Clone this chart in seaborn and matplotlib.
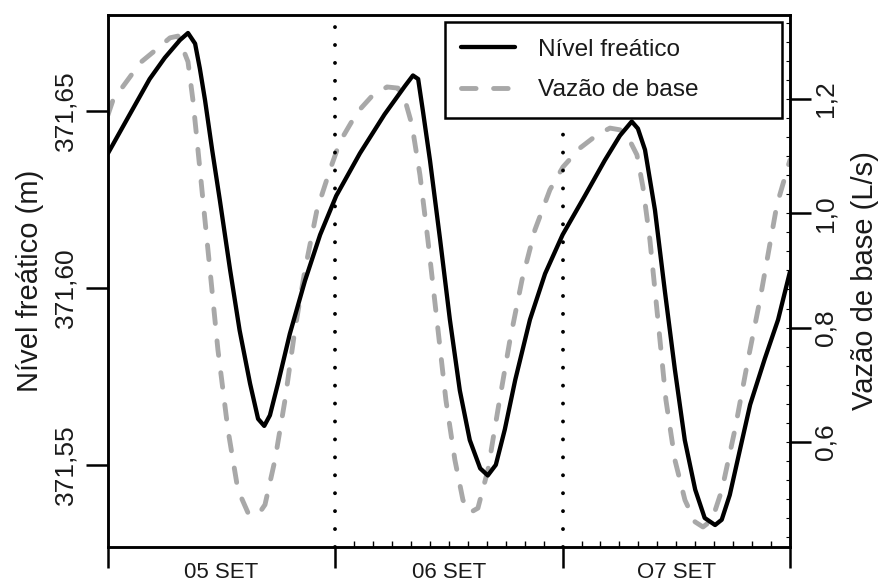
import numpy as np
import pandas as pd
import seaborn as sns
import matplotlib.pyplot as plt

# hours since 05 SET 00:00
hora_nivel = [0, 2.3, 4.4, 6.0, 7.6, 8.45, 9.2, 9.7, 10.25, 11.0, 11.8, 12.9, 13.9, 15.0,
              15.85, 16.5, 17.1, 17.95, 19.2, 20.8, 22.4, 24.1, 26.6, 29.2, 31.35, 32.2,
              32.75, 33.25, 34.0, 35.05, 36.1, 37.15, 38.2, 39.3, 40.1, 40.95, 41.9, 43.0,
              44.55, 46.15, 48.0, 50.35, 52.45, 54.05, 55.3, 55.95, 56.7, 57.75, 58.8,
              59.85, 60.9, 62.0, 63.0, 64.1, 64.8, 65.65, 66.7, 67.8, 69.35, 70.75, 72.0]
nivel = [371.638, 371.649, 371.659, 371.665, 371.670, 371.672, 371.669, 371.662, 371.653,
         371.639, 371.625, 371.605, 371.588, 371.573, 371.563, 371.561, 371.564, 371.573,
         371.587, 371.602, 371.615, 371.626, 371.638, 371.649, 371.657, 371.660, 371.659,
         371.650, 371.636, 371.614, 371.591, 371.571, 371.557, 371.549, 371.547, 371.550,
         371.560, 371.574, 371.591, 371.604, 371.615, 371.626, 371.636, 371.643, 371.647,
         371.645, 371.639, 371.622, 371.599, 371.577, 371.557, 371.543, 371.535, 371.533,
         371.5345, 371.5415, 371.554, 371.567, 371.580, 371.591, 371.6045]

hora_vazao = [0, 0.53, 2.32, 3.38, 5.28, 6.55, 7.39, 8.45, 8.97, 9.4, 10.03, 10.77, 11.61,
              12.67, 13.72, 14.78, 15.84, 16.58, 17.63, 18.69, 19.74, 20.8, 22.07, 23.44,
              24.49, 26.29, 27.87, 29.46, 30.62, 31.36, 32.09, 32.94, 33.78, 34.73, 35.68,
              36.63, 37.48, 38.22, 39.06, 40.12, 41.17, 42.44, 43.71, 45.08, 46.66, 48.04,
              49.83, 51.63, 53.0, 54.05, 54.79, 55.85, 56.48, 57.22, 58.07, 58.91, 59.86,
              60.92, 61.98, 62.82, 63.77, 64.82, 66.19, 67.57, 68.83, 70.63, 72.0]
vazao = [1.172, 1.198, 1.2385, 1.263, 1.289, 1.307, 1.310, 1.265, 1.198, 1.128, 1.023,
         0.901, 0.761, 0.621, 0.516, 0.476, 0.472, 0.490, 0.568, 0.673, 0.796, 0.901,
         1.006, 1.076, 1.125, 1.176, 1.205, 1.221, 1.219, 1.198, 1.155, 1.067, 0.953,
         0.813, 0.673, 0.568, 0.498, 0.476, 0.484, 0.551, 0.656, 0.778, 0.883, 0.971,
         1.041, 1.081, 1.114, 1.137, 1.149, 1.146, 1.137, 1.102, 1.046, 0.953, 0.813,
         0.673, 0.568, 0.498, 0.460, 0.451, 0.463, 0.516, 0.621, 0.743, 0.848, 1.015,
         1.093]

dias = ['05 SET', '06 SET', 'O7 SET']
nivel_ticks = [371.55, 371.60, 371.65]
nivel_labels = ['371,55', '371,60', '371,65']
vazao_ticks = [0.6, 0.8, 1.0, 1.2]
vazao_labels = ['0,6', '0,8', '1,0', '1,2']

sns.set_style('ticks')
plt.rcParams['font.family'] = ['Liberation Sans', 'DejaVu Sans']
plt.rcParams['text.color'] = '#1a1a1a'
plt.rcParams['axes.labelcolor'] = '#1a1a1a'
plt.rcParams['xtick.color'] = 'black'
plt.rcParams['ytick.color'] = 'black'
plt.rcParams['xtick.labelcolor'] = '#1a1a1a'
plt.rcParams['ytick.labelcolor'] = '#1a1a1a'

fig = plt.figure(figsize=(8.82, 5.84), dpi=100)
ax = fig.add_axes([0.1224, 0.0634, 0.7732, 0.9110])
ax2 = ax.twinx()
# black line above the grey one
ax.set_zorder(ax2.get_zorder() + 1)
ax.patch.set_visible(False)

sns.lineplot(x=hora_vazao, y=vazao, ax=ax2, color='#a8a8a8', lw=3.5,
             linestyle=(0, (3, 3.6)), dash_capstyle='round', label='Vazão de base',
             legend=False)
sns.lineplot(x=hora_nivel, y=nivel, ax=ax, color='black', lw=3.1,
             solid_capstyle='round', label='Nível freático', legend=False)

for d in [24, 48]:
    ax.axvline(d, color='black', lw=2.8, linestyle=(0, (0.01, 4.6)),
               dash_capstyle='round', zorder=1)

ax.set_xlim(0, 72)
ax.set_ylim(371.5268, 371.6771)
ax2.set_ylim(0.416, 1.347)

# x axis: day boundaries out, 2 h marks in, day names centred
ax.set_xticks([0, 24, 48, 72], ['', '', '', ''])
ax.set_xticks(np.r_[np.arange(26, 47, 2), np.arange(50, 71, 2)], minor=True)
ax.tick_params(axis='x', which='major', direction='out', length=15, width=1.8)
ax.tick_params(axis='x', which='minor', direction='in', length=4, width=1)
sec = ax.secondary_xaxis('bottom')
sec.set_xticks([12, 36, 60], dias)
sec.tick_params(axis='x', length=0, pad=11, labelsize=16)
sec.spines['bottom'].set_visible(False)

ax.set_yticks(nivel_ticks, nivel_labels)
ax.tick_params(axis='y', direction='out', length=16, width=1.8, labelsize=19,
               labelrotation=90, pad=6)
for t in ax.get_yticklabels():
    t.set_va('center')
ax.set_ylabel('Nível freático (m)', fontsize=21, labelpad=7)

ax2.set_yticks(vazao_ticks, vazao_labels)
ax2.set_yticks(np.arange(0.4333, 1.34, 0.2 / 6), minor=True)
ax2.tick_params(axis='y', which='major', direction='out', length=15, width=1.8,
                labelsize=19, labelrotation=90, pad=2)
ax2.tick_params(axis='y', which='minor', direction='in', length=3, width=0.8)
for t in ax2.get_yticklabels():
    t.set_va('center')
ax2.set_ylabel('Vazão de base (L/s)', fontsize=21, labelpad=10)

for a in (ax, ax2):
    for s in a.spines.values():
        s.set_visible(True)
        s.set_linewidth(1.8)
        s.set_color('black')

h1, l1 = ax.get_legend_handles_labels()
h2, l2 = ax2.get_legend_handles_labels()
leg = ax.legend(h1 + h2, l1 + l2, loc='upper left',
                bbox_to_anchor=(0.494, 0.808, 0.494, 0.179), mode='expand',
                borderaxespad=0, fontsize=17.6, frameon=True, fancybox=False,
                framealpha=1, edgecolor='black', handlelength=2.2,
                handletextpad=0.95, labelspacing=0.76, borderpad=0.68)
leg.get_frame().set_linewidth(1.8)

fig.savefig('out.png', dpi=100)
